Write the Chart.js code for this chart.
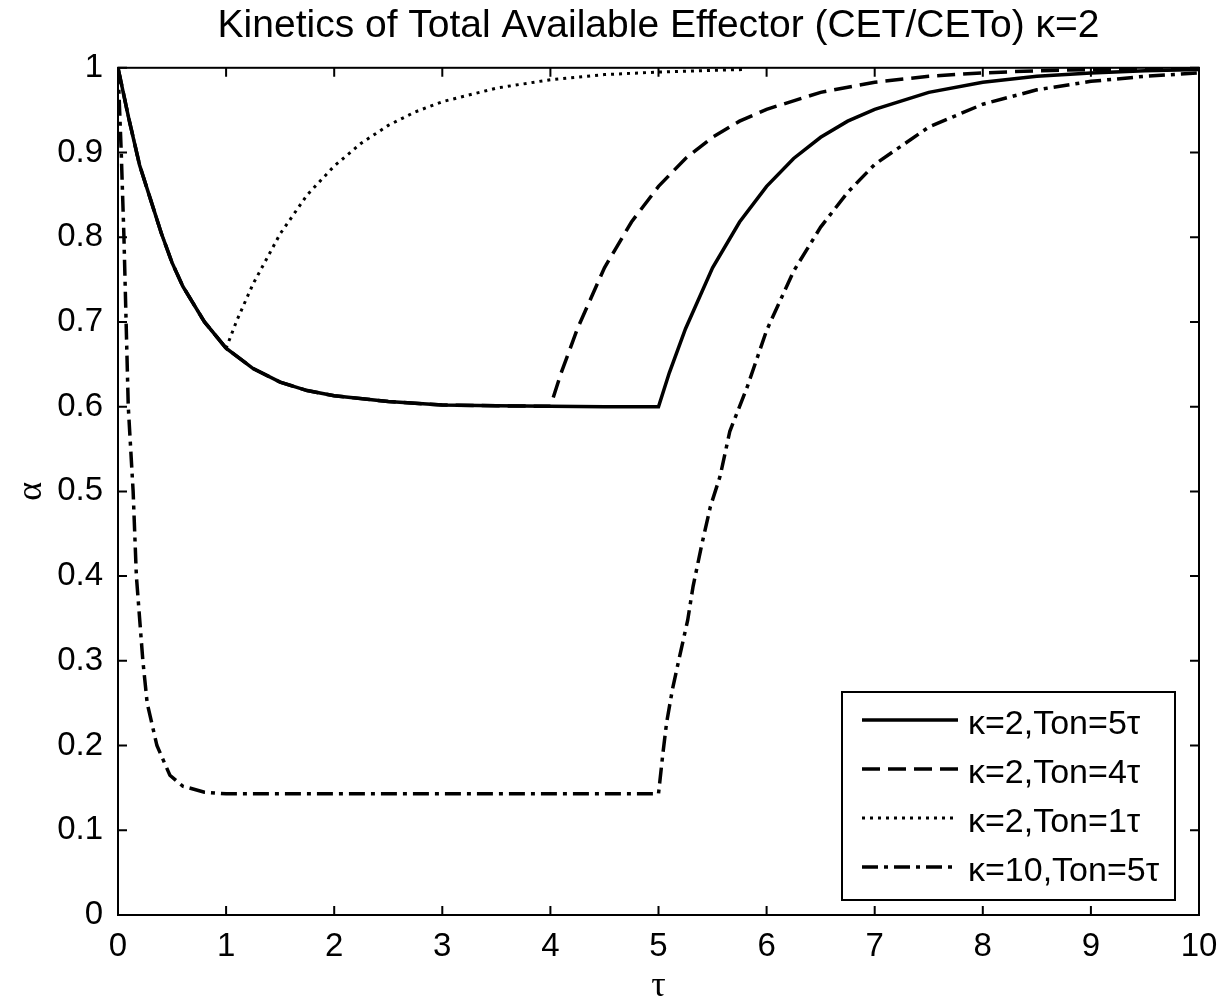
<!DOCTYPE html>
<html>
<head>
<meta charset="utf-8">
<script src="https://cdn.jsdelivr.net/npm/chart.js@4"></script>
<style>
  html, body { margin: 0; padding: 0; background: #fff; }
  #wrap { width: 1221px; height: 1007px; }
</style>
</head>
<body>
<div id="wrap"><canvas id="kinetics"></canvas></div>
<script>
///////////////////////////////// DATA /////////////////////////////////////

// kappa=2, Ton=5tau (solid)
const tauOn5 = [0, 0.1, 0.2, 0.3, 0.4, 0.5, 0.6, 0.8, 1.0, 1.25, 1.5, 1.75, 2.0, 2.5, 3.0, 3.5, 4.0, 4.5, 5.0,
                5.1, 5.25, 5.5, 5.75, 6.0, 6.25, 6.5, 6.75, 7.0, 7.5, 8.0, 8.5, 9.0, 9.5, 10];
const alphaOn5 = [1.0, 0.94, 0.885, 0.845, 0.805, 0.77, 0.742, 0.70, 0.669, 0.645, 0.629, 0.619, 0.613, 0.606, 0.602, 0.601, 0.6005, 0.600, 0.600,
                  0.640, 0.692, 0.764, 0.818, 0.860, 0.893, 0.918, 0.937, 0.951, 0.971, 0.983, 0.990, 0.994, 0.9965, 0.998];

// kappa=2, Ton=4tau (dashed)
const tauOn4 = [0, 0.1, 0.2, 0.3, 0.4, 0.5, 0.6, 0.8, 1.0, 1.25, 1.5, 1.75, 2.0, 2.5, 3.0, 3.5, 4.0,
                4.1, 4.25, 4.5, 4.75, 5.0, 5.25, 5.5, 5.75, 6.0, 6.5, 7.0, 7.5, 8.0, 8.5, 9.0, 10];
const alphaOn4 = [1.0, 0.94, 0.885, 0.845, 0.805, 0.77, 0.742, 0.70, 0.669, 0.645, 0.629, 0.619, 0.613, 0.606, 0.602, 0.601, 0.6005,
                  0.640, 0.692, 0.764, 0.818, 0.860, 0.893, 0.918, 0.937, 0.951, 0.971, 0.983, 0.990, 0.994, 0.9965, 0.998, 0.999];

// kappa=2, Ton=1tau (dotted)
const tauOn1 = [0, 0.1, 0.2, 0.3, 0.4, 0.5, 0.6, 0.8, 1.0,
                1.1, 1.25, 1.5, 1.75, 2.0, 2.25, 2.5, 2.75, 3.0, 3.5, 4.0, 4.5, 5.0, 5.5, 5.8];
const alphaOn1 = [1.0, 0.94, 0.885, 0.845, 0.805, 0.77, 0.742, 0.70, 0.669,
                  0.702, 0.745, 0.804, 0.850, 0.884, 0.911, 0.932, 0.948, 0.960, 0.976, 0.986, 0.992, 0.995, 0.997, 0.998];

// kappa=10, Ton=5tau (dash-dot)
const tauK10 = [0, 0.03, 0.055, 0.075, 0.095, 0.14, 0.17, 0.23, 0.27, 0.36, 0.48, 0.6, 0.8, 1.0, 2.0, 3.0, 4.0, 5.0,
                5.04, 5.075, 5.13, 5.2, 5.27, 5.32, 5.4, 5.48, 5.57, 5.66, 5.82, 6.0, 6.25, 6.5, 6.75, 7.0, 7.5, 8.0, 8.5, 9.0, 9.5, 10];
const alphaK10 = [1.0, 0.9, 0.8, 0.7, 0.6, 0.5, 0.4, 0.3, 0.25, 0.2, 0.165, 0.152, 0.145, 0.143, 0.143, 0.143, 0.143, 0.143,
                  0.19, 0.227, 0.267, 0.308, 0.348, 0.388, 0.437, 0.482, 0.518, 0.571, 0.623, 0.69, 0.76, 0.812, 0.853, 0.886, 0.93, 0.957, 0.974, 0.984, 0.99, 0.994];

const seriesLabels = ['κ=2,Ton=5τ', 'κ=2,Ton=4τ', 'κ=2,Ton=1τ', 'κ=10,Ton=5τ'];
const xTicks = [0, 1, 2, 3, 4, 5, 6, 7, 8, 9, 10];
const yTicks = [0, 0.1, 0.2, 0.3, 0.4, 0.5, 0.6, 0.7, 0.8, 0.9, 1];

const FONT = "'Liberation Sans', Arial, sans-serif";
const GREEK = "'Liberation Serif', 'DejaVu Serif', serif";

// Build {x,y} pairs
function pairs(xs, ys){
  return xs.map(function(x, i){ return {x: x, y: ys[i]}; });
};

///////////////////////////////// PLUGINS /////////////////////////////////////

// Matlab style box with inward ticks on all four sides
const boxTicks = {
  id: 'boxTicks',
  afterDatasetsDraw(chart){
    const ctx = chart.ctx;
    const a = chart.chartArea;
    const xs = chart.scales.x, ys = chart.scales.y;
    const len = 9;
    ctx.save();
    ctx.strokeStyle = '#000';
    ctx.lineWidth = 2;
    ctx.setLineDash([]);
    ctx.strokeRect(a.left, a.top, a.right - a.left, a.bottom - a.top);
    ctx.beginPath();
    xTicks.forEach(function(v){
      const px = xs.getPixelForValue(v);
      ctx.moveTo(px, a.bottom); ctx.lineTo(px, a.bottom - len);
      ctx.moveTo(px, a.top);    ctx.lineTo(px, a.top + len);
    });
    yTicks.forEach(function(v){
      const py = ys.getPixelForValue(v);
      ctx.moveTo(a.left, py);  ctx.lineTo(a.left + len, py);
      ctx.moveTo(a.right, py); ctx.lineTo(a.right - len, py);
    });
    ctx.stroke();
    ctx.restore();
  }
};

// Legend inside the lower right corner
const legendInside = {
  id: 'legendInside',
  afterDraw(chart){
    const ctx = chart.ctx;
    const a = chart.chartArea;
    const w = 333, h = 208;
    const x0 = a.right - 24 - w, y0 = a.bottom - 15 - h;
    ctx.save();
    ctx.fillStyle = '#fff';
    ctx.fillRect(x0, y0, w, h);
    ctx.strokeStyle = '#000';
    ctx.lineWidth = 2;
    ctx.strokeRect(x0, y0, w, h);
    ctx.font = '34px ' + FONT;
    ctx.textBaseline = 'middle';
    ctx.fillStyle = '#000';
    chart.data.datasets.forEach(function(ds, i){
      const cy = y0 + 28 + i * 49;
      ctx.beginPath();
      ctx.lineWidth = ds.borderWidth;
      ctx.setLineDash(ds.borderDash || []);
      ctx.moveTo(x0 + 20, cy);
      ctx.lineTo(x0 + 116, cy);
      ctx.stroke();
      ctx.setLineDash([]);
      ctx.fillText(ds.label, x0 + 126, cy + 5);
    });
    ctx.restore();
  }
};

///////////////////////////////// CHART /////////////////////////////////////

function line_set(label, xs, ys, dash, width){
  return {
    label: label,
    data: pairs(xs, ys),
    borderColor: '#000',
    borderWidth: width,
    borderDash: dash,
    pointRadius: 0,
    tension: 0,
    fill: false
  };
};

const data = {
  datasets: [
    line_set(seriesLabels[0], tauOn5, alphaOn5, [], 3.5),
    line_set(seriesLabels[1], tauOn4, alphaOn4, [18, 8], 3.5),
    line_set(seriesLabels[2], tauOn1, alphaOn1, [3, 5], 3),
    line_set(seriesLabels[3], tauK10, alphaK10, [16, 6, 4, 6], 3.5)
  ]
};

const config = {
  type: 'line',
  data,
  options: {
    responsive: true,
    maintainAspectRatio: false,
    animation: false,
    layout: { padding: { left: 0, right: 22, top: 0, bottom: 0 } },
    plugins: {
      legend: { display: false },
      tooltip: { enabled: false },
      title: {
        display: true,
        fullSize: false,
        text: 'Kinetics of Total Available Effector (CET/CETo) κ=2',
        color: '#000',
        font: { family: FONT, size: 39, weight: 'normal', lineHeight: 1.2 },
        padding: { top: 3, bottom: 18 }
      }
    },
    scales: {
      x: {
        type: 'linear',
        min: 0, max: 10,
        afterFit: function(s){ s.height = 92; s.paddingLeft = 0; s.paddingRight = 0; },
        afterBuildTicks: function(s){ s.ticks = xTicks.map(function(v){ return {value: v}; }); },
        grid: { display: false, drawTicks: false },
        border: { display: false },
        ticks: { color: '#000', padding: 12, maxRotation: 0, font: { family: FONT, size: 33 } },
        title: { display: true, text: 'τ', color: '#000', padding: { top: 0, bottom: 2 },
                 font: { family: GREEK, size: 36, lineHeight: 1 } }
      },
      y: {
        type: 'linear',
        min: 0, max: 1,
        afterFit: function(s){ s.width = 118; },
        afterBuildTicks: function(s){ s.ticks = yTicks.map(function(v){ return {value: v}; }); },
        grid: { display: false, drawTicks: false },
        border: { display: false },
        ticks: {
          color: '#000', padding: 15, font: { family: FONT, size: 33 },
          callback: function(v){ return (v === 0 || v === 1) ? String(v) : v.toFixed(1); }
        },
        title: { display: true, text: 'α', color: '#000', padding: { top: 14, bottom: 0 },
                 font: { family: GREEK, size: 36, lineHeight: 1 } }
      }
    }
  },
  plugins: [boxTicks, legendInside]
};

KINETICS_CHART = new Chart(document.getElementById('kinetics'), config);
</script>
</body>
</html>
